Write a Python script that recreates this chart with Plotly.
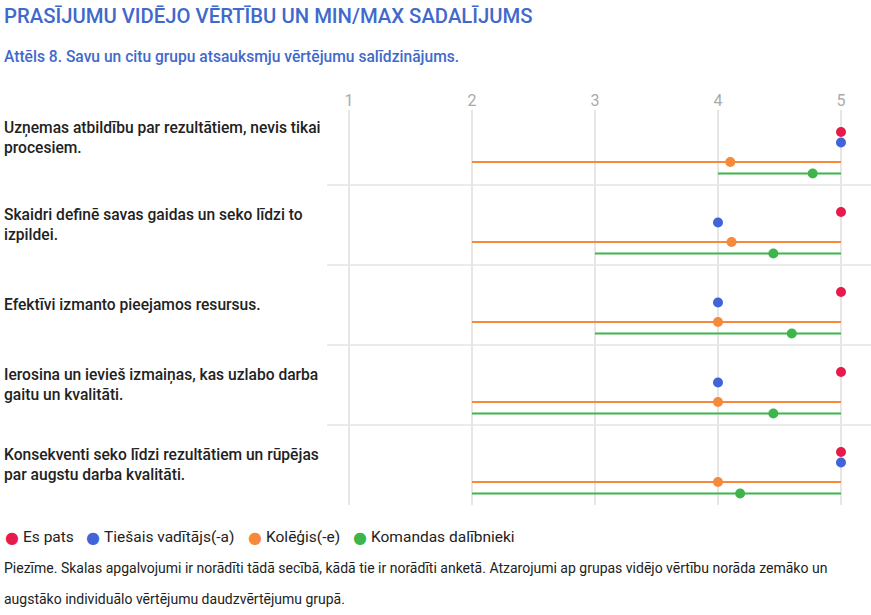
import plotly.graph_objects as go

# ---------------- data ----------------
categories = [
    "Uzņemas atbildību par rezultātiem, nevis tikai<br>procesiem.",
    "Skaidri definē savas gaidas un seko līdzi to<br>izpildei.",
    "Efektīvi izmanto pieejamos resursus.",
    "Ierosina un ievieš izmaiņas, kas uzlabo darba<br>gaitu un kvalitāti.",
    "Konsekventi seko līdzi rezultātiem un rūpējas<br>par augstu darba kvalitāti.",
]
es_pats = [5, 5, 5, 5, 5]
tiesais = [5, 4, 4, 4, 5]
kolegis_mean = [4.1, 4.11, 4.0, 4.0, 4.0]
kolegis_min = [2, 2, 2, 2, 2]
kolegis_max = [5, 5, 5, 5, 5]
komandas_mean = [4.77, 4.45, 4.6, 4.45, 4.18]
komandas_min = [4, 3, 3, 2, 2]
komandas_max = [5, 5, 5, 5, 5]
tick_vals = [1, 2, 3, 4, 5]
series_names = ["Es pats", "Tiešais vadītājs(-a)", "Kolēģis(-e)", "Komandas dalībnieki"]

# ---------------- style / layout ----------------
RED, BLUE, ORANGE, GREEN = "#e8194b", "#4164d8", "#f6893a", "#3db54a"
TITLE_BLUE = "#4169cc"
W, H = 871, 615
L, R, T, B = 327, 0, 110, 110
PW, PH = W - L - R, H - T - B
ROW = 80
OFF = [27, 37.5, 57, 68.5]          # offsets of the four sub-rows inside a category band
Y0 = 5                               # data y at top of plot area

def px_x(px):
    return (px - L) / PW

def px_y(py):
    return (H - B - py) / PH

n = len(categories)
rows = [ROW * i for i in range(n)]

fig = go.Figure()

def seg(mins, maxs, off):
    xs, ys = [], []
    for a, b, r in zip(mins, maxs, rows):
        xs += [a, b, None]
        ys += [r + off, r + off, None]
    return xs, ys

# range lines
xs, ys = seg(kolegis_min, kolegis_max, OFF[2])
fig.add_trace(go.Scatter(x=xs, y=ys, mode="lines", line=dict(color=ORANGE, width=2),
                         showlegend=False, hoverinfo="skip"))
xs, ys = seg(komandas_min, komandas_max, OFF[3])
fig.add_trace(go.Scatter(x=xs, y=ys, mode="lines", line=dict(color=GREEN, width=2),
                         showlegend=False, hoverinfo="skip"))

for vals, col, off, name in [(es_pats, RED, OFF[0], series_names[0]),
                             (tiesais, BLUE, OFF[1], series_names[1]),
                             (kolegis_mean, ORANGE, OFF[2], series_names[2]),
                             (komandas_mean, GREEN, OFF[3], series_names[3])]:
    fig.add_trace(go.Scatter(x=vals, y=[r + off for r in rows], mode="markers", name=name,
                             marker=dict(color=col, size=10, line=dict(width=0)),
                             showlegend=False))

# separators between categories
for i in range(1, n):
    fig.add_shape(type="line", xref="paper", x0=0, x1=1, yref="y", y0=rows[i], y1=rows[i],
                  line=dict(color="#e4e4e4", width=1.5), layer="below")

ann = []
# category labels
for i, c in enumerate(categories):
    cy = 105 + rows[i] + ROW / 2 - (7 if i == 0 else 0)
    ann.append(dict(text=c, xref="paper", yref="paper", x=px_x(2), y=px_y(cy),
                    xanchor="left", yanchor="middle", align="left", showarrow=False,
                    font=dict(family="Roboto", size=15.6, color="#222222", weight=500)))

# title & subtitle
ann.append(dict(text="PRASĪJUMU VIDĒJO VĒRTĪBU UN MIN/MAX SADALĪJUMS", xref="paper", yref="paper",
                x=px_x(2), y=px_y(16), xanchor="left", yanchor="middle", showarrow=False,
                font=dict(family="Roboto", size=20.3, color=TITLE_BLUE, weight=500)))
ann.append(dict(text="Attēls 8. Savu un citu grupu atsauksmju vērtējumu salīdzinājums.",
                xref="paper", yref="paper", x=px_x(2), y=px_y(57), xanchor="left",
                yanchor="middle", showarrow=False,
                font=dict(family="Roboto", size=15.6, color=TITLE_BLUE, weight=500)))

# legend
leg_dot = [12, 93, 255, 360]
for name, col, lx in zip(series_names, [RED, BLUE, ORANGE, GREEN], leg_dot):
    ann.append(dict(text="●", xref="paper", yref="paper",
                    x=px_x(lx), y=px_y(537), xanchor="center", yanchor="middle", showarrow=False,
                    font=dict(family="DejaVu Sans", size=16, color=col)))
    ann.append(dict(text=name, xref="paper", yref="paper",
                    x=px_x(lx + 9), y=px_y(537), xanchor="left", yanchor="middle", showarrow=False,
                    font=dict(family="Roboto", size=15.5, color="#222222")))

# footnote
notes = ["Piezīme. Skalas apgalvojumi ir norādīti tādā secībā, kādā tie ir norādīti anketā. Atzarojumi ap grupas vidējo vērtību norāda zemāko un",
         "augstāko individuālo vērtējumu daudzvērtējumu grupā."]
for txt, yy in zip(notes, [568, 599]):
    ann.append(dict(text=txt, xref="paper", yref="paper", x=px_x(2), y=px_y(yy),
                    xanchor="left", yanchor="middle", showarrow=False,
                    font=dict(family="Roboto", size=14, color="#222222")))

x_lo = 1 - 22 / 123
x_hi = x_lo + PW / 123

fig.update_layout(
    width=W, height=H,
    margin=dict(l=L, r=R, t=T, b=B, pad=0),
    paper_bgcolor="white", plot_bgcolor="white",
    showlegend=False,
    annotations=ann,
    xaxis=dict(range=[x_lo, x_hi], side="top", tickvals=tick_vals, showgrid=True,
               gridcolor="#e6e6e6", gridwidth=1.5, zeroline=False, showline=False,
               tickfont=dict(family="Roboto", size=16, color="#aaaaaa"), fixedrange=True),
    yaxis=dict(range=[ROW * n, Y0], showgrid=False, zeroline=False, showline=False,
               showticklabels=False, fixedrange=True),
)

fig.write_html("out.html", config={"displayModeBar": False},
               post_script="document.body.style.margin='0';")
